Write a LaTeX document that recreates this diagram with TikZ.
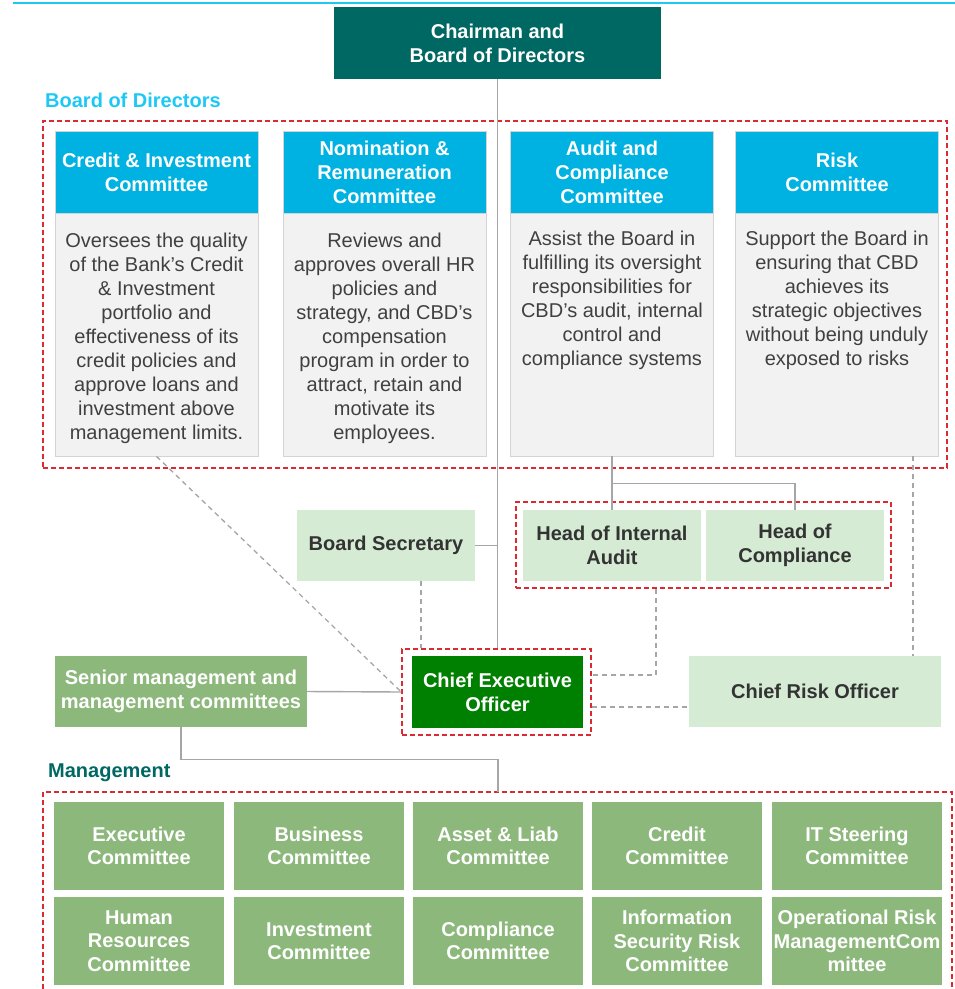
\documentclass[tikz,border=0pt]{standalone}
\usepackage{fontspec}
\setmainfont{Liberation Sans}
\definecolor{chairteal}{HTML}{006862}
\definecolor{hdrcyan}{HTML}{00B2E2}
\definecolor{labelcyan}{HTML}{1EC8F4}
\definecolor{descfill}{HTML}{F2F2F2}
\definecolor{descborder}{HTML}{D4D4D4}
\definecolor{desctext}{HTML}{404040}
\definecolor{lightgreen}{HTML}{D5EBD3}
\definecolor{darktext}{HTML}{333333}
\definecolor{midgreen}{HTML}{8CB87B}
\definecolor{ceogreen}{HTML}{008000}
\definecolor{reddash}{HTML}{DC2A30}
\definecolor{conngray}{HTML}{A6A6A6}
\tikzset{
  box/.style={rectangle, inner sep=0pt, align=center, font=\bfseries\fontsize{20}{24}\selectfont},
  chairbox/.style={box, fill=chairteal, text=white, minimum width=327pt, minimum height=72pt},
  hdrbox/.style={box, fill=hdrcyan, draw=descborder, line width=0.8pt, text=white, minimum width=203pt, minimum height=82pt},
  descbox/.style={rectangle, inner sep=0pt, fill=descfill, draw=descborder, line width=0.8pt, minimum width=203pt, minimum height=243pt},
  desctxt/.style={inner sep=0pt, align=center, text=desctext, font=\fontsize{20}{24}\selectfont, anchor=north},
  lgbox/.style={box, fill=lightgreen, text=darktext, minimum height=71pt},
  mgbox/.style={box, fill=midgreen, text=white, minimum height=71pt},
  ceobox/.style={box, fill=ceogreen, text=white, minimum width=171pt, minimum height=72pt},
  cellbox/.style={box, fill=midgreen, text=white, minimum width=170pt, minimum height=88pt, font=\bfseries\fontsize{20}{23.5}\selectfont},
  redframe/.style={rectangle, inner sep=0pt, draw=reddash, line width=1.4pt, dash pattern=on 5pt off 3pt},
  openframe/.style={draw=reddash, line width=1.4pt, dash pattern=on 5pt off 3pt},
  conn/.style={draw=conngray, line width=1.4pt},
  dconn/.style={draw=conngray, line width=1.3pt, dash pattern=on 5pt off 4pt},
  grouplabel/.style={inner sep=0pt, anchor=west, font=\bfseries\fontsize{20}{24}\selectfont}
}
\begin{document}
\begin{tikzpicture}[x=1pt,y=-1pt]
\useasboundingbox (0,0) rectangle (955,989);
% top rule
\coordinate (ruleL) at (13,3);
\coordinate (ruleR) at (955,3);
\draw[draw=labelcyan, line width=2pt] (ruleL) -- (ruleR);

% frames
\node[redframe, minimum width=904pt, minimum height=347pt] (bodframe) at (495,294.5) {};
\node[redframe, minimum width=375pt, minimum height=86pt] (hoframe) at (703.5,545) {};
\node[redframe, minimum width=189pt, minimum height=86pt] (ceoframe) at (496.5,692) {};
\coordinate (mgBL) at (43,989);
\coordinate (mgTL) at (43,792);
\coordinate (mgTR) at (952,792);
\coordinate (mgBR) at (952,989);
\draw[openframe] (mgBL) -- (mgTL) -- (mgTR) -- (mgBR);
\coordinate (mtop) at (498,792);

% labels
\node[grouplabel, text=labelcyan] (bodlabel) at (45,100) {Board of Directors};
\node[grouplabel, text=chairteal] (mglabel) at (48,773) {Management};

% chairman
\node[chairbox] (chair) at (497.5,43) {Chairman and\\Board of Directors};

% committees
\node[descbox] (d1) at (156.5,334.5) {};
\node[descbox] (d2) at (384.5,334.5) {};
\node[descbox] (d3) at (612,334.5) {};
\node[descbox] (d4) at (837,334.5) {};
\node[hdrbox] (h1) at (156.5,172) {Credit \& Investment\\Committee};
\node[hdrbox] (h2) at (384.5,172) {Nomination \&\\Remuneration\\Committee};
\node[hdrbox] (h3) at (612,172) {Audit and\\Compliance\\Committee};
\node[hdrbox] (h4) at (837,172) {Risk\\Committee};
\node[desctxt] (t1) at ([yshift=-20pt]d1.north) {Oversees the quality\\of the Bank’s Credit\\\& Investment\\portfolio and\\effectiveness of its\\credit policies and\\approve loans and\\investment above\\management limits.};
\node[desctxt] (t2) at ([yshift=-20pt]d2.north) {Reviews and\\approves overall HR\\policies and\\strategy, and CBD’s\\compensation\\program in order to\\attract, retain and\\motivate its\\employees.};
\node[desctxt] (t3) at ([yshift=-18pt]d3.north) {Assist the Board in\\fulfilling its oversight\\responsibilities for\\CBD’s audit, internal\\control and\\compliance systems};
\node[desctxt] (t4) at ([yshift=-18pt]d4.north) {Support the Board in\\ensuring that CBD\\achieves its\\strategic objectives\\without being unduly\\exposed to risks};

% middle tier
\node[lgbox, minimum width=178pt] (bsec) at (386,545.5) {Board Secretary};
\node[lgbox, minimum width=178pt] (hia) at (612,545.5) {Head of Internal\\Audit};
\node[lgbox, minimum width=178pt] (hoc) at (795,545.5) {Head of\\Compliance};
\node[ceobox] (ceo) at (497.5,692) {Chief Executive\\Officer};
\node[mgbox, minimum width=252pt] (senior) at (181,691.5) {Senior management and\\management committees};
\node[lgbox, minimum width=252pt] (cro) at (815,691.5) {Chief Risk Officer};

% management grid
\node[cellbox] (m1) at (139,846) {Executive\\Committee};
\node[cellbox] (m2) at (319,846) {Business\\Committee};
\node[cellbox] (m3) at (498,846) {Asset \& Liab\\Committee};
\node[cellbox] (m4) at (677,846) {Credit\\Committee};
\node[cellbox] (m5) at (857,846) {IT Steering\\Committee};
\node[cellbox] (m6) at (139,941) {Human\\Resources\\Committee};
\node[cellbox] (m7) at (319,941) {Investment\\Committee};
\node[cellbox] (m8) at (498,941) {Compliance\\Committee};
\node[cellbox] (m9) at (677,941) {Information\\Security Risk\\Committee};
\node[cellbox] (m10) at (857,941) {Operational Risk\\ManagementCom\\mittee};

% solid connectors
\draw[conn] (chair.south) -- (chair.south |- ceoframe.north);
\draw[conn] (bsec.east) -- (bsec.east -| chair.south);
\draw[conn] (d3.south) -- (hia.north);
\draw[conn] ([yshift=-27pt]d3.south) -| (hoc.north);
\draw[conn] (senior.east) -- (ceoframe.west);
\draw[conn] (senior.south) -- ++(0,32) -| (mtop);

% dashed connectors
\draw[dconn] (d1.south) -- (ceoframe.west);
\draw[dconn] ([xshift=35pt]bsec.south) -- ([xshift=35pt]bsec.south |- ceoframe.north);
\draw[dconn] ([xshift=-47.5pt]hoframe.south) |- ([yshift=17pt]ceoframe.east);
\draw[dconn] ([yshift=-15pt]ceoframe.east) -- ([yshift=-15.5pt]cro.west);
\draw[dconn] ([xshift=76pt]d4.south) -- ([xshift=98pt]cro.north);
\end{tikzpicture}
\end{document}
